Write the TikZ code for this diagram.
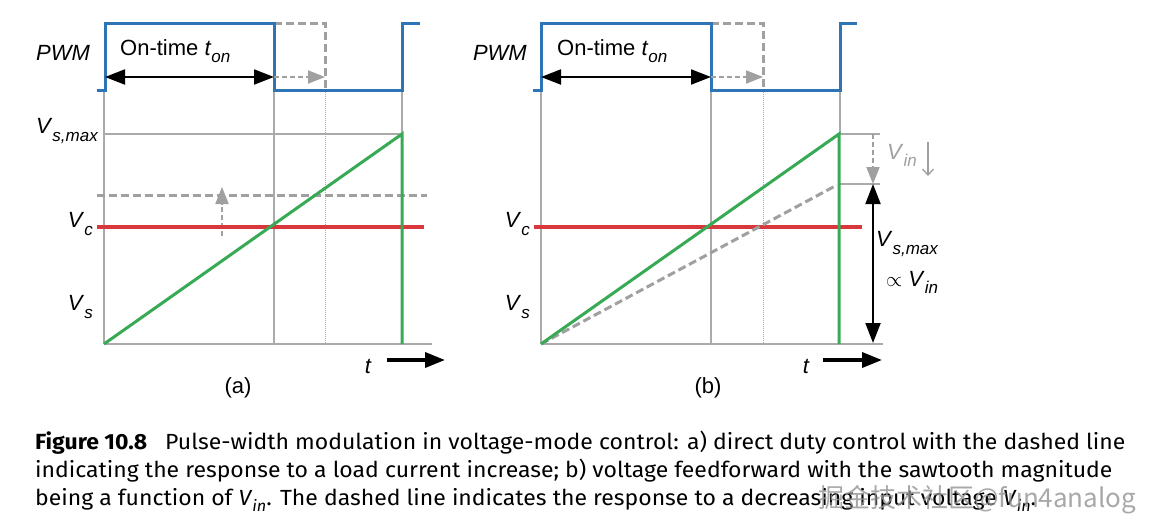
\documentclass[tikz,border=0pt]{standalone}
\usepackage{fontspec}
\setmainfont{Liberation Sans}
\newfontfamily\capfont[FakeStretch=1.05]{Fira Sans}
\newfontfamily\cjkfont{Noto Sans CJK SC}
\usetikzlibrary{arrows.meta}
\definecolor{pwmblue}{RGB}{46,117,182}
\definecolor{rampgreen}{RGB}{56,170,86}
\definecolor{vcred}{RGB}{216,56,60}
\definecolor{gridgray}{RGB}{170,170,170}
\definecolor{dashgray}{RGB}{160,160,160}
\newcommand{\sbs}[1]{\raisebox{-0.32em}{\fontsize{17}{17}\selectfont\itshape #1}}
\newcommand{\capsub}[1]{\raisebox{-0.3em}{\fontsize{15.5}{15.5}\selectfont\itshape #1}}
\tikzset{
  pwm/.style={pwmblue, line width=3pt},
  ramp/.style={rampgreen, line width=3pt},
  vcline/.style={vcred, line width=3.5pt},
  gridline/.style={gridgray, line width=1.2pt},
  dotgrid/.style={gridgray, line width=0.9pt, dash pattern=on 1pt off 1pt},
  dashg/.style={dashgray, line width=3pt, dash pattern=on 8pt off 4pt},
  dblarrow/.style={black, line width=2pt, {Triangle[length=20pt,width=15pt]}-{Triangle[length=20pt,width=15pt]}},
  garrow/.style={dashgray, line width=2pt, dash pattern=on 5pt off 3pt, -{Triangle[length=17pt,width=13pt]}},
  tarrow/.style={black, line width=3.5pt, -{Triangle[length=20pt,width=15pt]}},
  lbl/.style={font=\fontsize{22}{24}\selectfont, inner sep=0pt},
  captxt/.style={font=\capfont\fontsize{21.9}{26}\selectfont, inner sep=0pt, anchor=base west}
}
\begin{document}
\begin{tikzpicture}[x=1pt,y=-1pt]
\useasboundingbox (0,0) rectangle (1156,531);
\fill[white] (0,0) rectangle (1156,531);

% ================= Panel (a) =================
\coordinate (a0) at (97,90);
\coordinate (a1) at (105,90);
\coordinate (a2) at (105,23);
\coordinate (a3) at (274,23);
\coordinate (a4) at (274,90);
\coordinate (a5) at (402,90);
\coordinate (a6) at (402,23);
\coordinate (a7) at (420,23);
\coordinate (a8) at (325,23);
\coordinate (a9) at (325,90);
\coordinate (aB0) at (104,344);
\coordinate (aB1) at (274,344);
\coordinate (aB2) at (325,344);
\coordinate (aB3) at (432,344);
\coordinate (aT0) at (103,134);
\coordinate (aT1) at (402,134);
\coordinate (aG1) at (402,344);
\coordinate (aAx) at (104,90);

% grid
\draw[gridline] (aAx) -- (aB0);
\draw[gridline] (a4) -- (aB1);
\draw[dotgrid] (a9) -- (aB2);
\draw[gridline] (a5) -- (aT1);
\draw[gridline] (aT0) -- (aT1);
\draw[gridline] (aB0) -- (aB3);

% dashed shifted level and arrow
\coordinate (aD0) at (97,195);
\coordinate (aD1) at (427,195);
\draw[dashg] (aD0) -- (aD1);
\coordinate (aU0) at (222,236);
\coordinate (aU1) at (222,187);
\draw[garrow] (aU0) -- (aU1);

% control voltage
\coordinate (aR0) at (97,227);
\coordinate (aR1) at (424,227);
\draw[vcline] (aR0) -- (aR1);

% sawtooth
\draw[ramp] (aB0) -- (aT1) -- (aG1);

% PWM
\draw[dashg] (a3) -- (a8) -- (a9);
\draw[pwm] (a0) -- (a1) -- (a2) -- (a3) -- (a4) -- (a5) -- (a6) -- (a7);
\coordinate (aA0) at (105,77);
\coordinate (aA1) at (274,77);
\coordinate (aA2) at (325,77);
\draw[dblarrow] (aA0) -- (aA1);
\draw[garrow] (aA1) -- (aA2);

% labels
\node[lbl] (aPWM) at (63,53) {\itshape PWM};
\node[lbl, anchor=base west] (aOn) at (120,55) {On-time \textit{t}\sbs{on}};
\node[lbl, anchor=east] (aVsmax) at (98,131) {\textit{V}\sbs{s,max}};
\node[lbl, anchor=east] (aVc) at (93,224) {\textit{V}\sbs{c}};
\node[lbl, anchor=east] (aVs) at (93,307) {\textit{V}\sbs{s}};
\node[lbl] (aT) at (368,366) {\itshape t};
\coordinate (aTa0) at (387,360);
\coordinate (aTa1) at (445,360);
\draw[tarrow] (aTa0) -- (aTa1);
\node[lbl] (aCap) at (238,388) {(a)};

% ================= Panel (b) =================
\coordinate (b0) at (533,90);
\coordinate (b1) at (541,90);
\coordinate (b2) at (541,23);
\coordinate (b3) at (711,23);
\coordinate (b4) at (711,90);
\coordinate (b5) at (840,90);
\coordinate (b6) at (840,23);
\coordinate (b7) at (857,23);
\coordinate (b8) at (763,23);
\coordinate (b9) at (763,90);
\coordinate (bB0) at (541,344);
\coordinate (bB1) at (711,344);
\coordinate (bB2) at (763,344);
\coordinate (bB3) at (883,344);
\coordinate (bT1) at (839,134);
\coordinate (bG1) at (839,344);
\coordinate (bAx) at (541,90);
\coordinate (bK) at (840,134);

% grid
\draw[gridline] (bAx) -- (bB0);
\draw[gridline] (b4) -- (bB1);
\draw[dotgrid] (b9) -- (bB2);
\draw[gridline] (b5) -- (bK);
\draw[gridline] (bB0) -- (bB3);
\coordinate (bH0) at (839,134);
\coordinate (bH1) at (880,134);
\coordinate (bH2) at (839,184);
\coordinate (bH3) at (880,184);
\draw[gridline] (bH0) -- (bH1);
\draw[gridline] (bH2) -- (bH3);

% control voltage
\coordinate (bR0) at (534,227);
\coordinate (bR1) at (862,227);
\draw[vcline] (bR0) -- (bR1);

% reduced sawtooth (dashed) and sawtooth
\coordinate (bDr) at (837,185);
\draw[dashg] (bB0) -- (bDr);
\draw[ramp] (bB0) -- (bT1) -- (bG1);

% magnitude arrows
\coordinate (bM0) at (873,134);
\coordinate (bM1) at (873,184);
\coordinate (bM2) at (873,343);
\draw[garrow] (bM0) -- (bM1);
\draw[dblarrow] (bM1) -- (bM2);
\node[lbl, text=dashgray, anchor=west] (bVin) at (887,155) {\textit{V}\sbs{in}};
\coordinate (bDn0) at (928,142);
\coordinate (bDn1) at (928,176);
\draw[dashgray, line width=1.3pt, -{Straight Barb[length=6pt,width=11pt]}] (bDn0) -- (bDn1);
\node[lbl, anchor=west] (bVsmax) at (876,244) {\textit{V}\sbs{s,max}};
\node[lbl, anchor=west] (bProp) at (886,282) {$\propto$ \textit{V}\sbs{in}};

% PWM
\draw[dashg] (b3) -- (b8) -- (b9);
\draw[pwm] (b0) -- (b1) -- (b2) -- (b3) -- (b4) -- (b5) -- (b6) -- (b7);
\coordinate (bA0) at (541,77);
\coordinate (bA1) at (711,77);
\coordinate (bA2) at (763,77);
\draw[dblarrow] (bA0) -- (bA1);
\draw[garrow] (bA1) -- (bA2);

% labels
\node[lbl, anchor=east] (bPWM) at (527,53) {\itshape PWM};
\node[lbl, anchor=base west] (bOn) at (557,55) {On-time \textit{t}\sbs{on}};
\node[lbl, anchor=east] (bVc) at (530,224) {\textit{V}\sbs{c}};
\node[lbl, anchor=east] (bVs) at (530,307) {\textit{V}\sbs{s}};
\node[lbl] (bT) at (806,366) {\itshape t};
\coordinate (bTa0) at (823,360);
\coordinate (bTa1) at (882,360);
\draw[tarrow] (bTa0) -- (bTa1);
\node[lbl] (bCap) at (708,388) {(b)};

% ================= Caption =================
\node[captxt] (cap1) at (35,449) {\textbf{Figure 10.8}\hspace{18pt}Pulse-width modulation in voltage-mode control: a) direct duty control with the dashed line};
\node[captxt] (cap2) at (35,477) {indicating the response to a load current increase; b) voltage feedforward with the sawtooth magnitude};
\node[captxt] (cap3) at (35,505) {being a function of \textit{V}\capsub{in}. The dashed line indicates the response to a decreasing input voltage \textit{V}\capsub{in}.};

% watermark
\node[inner sep=0pt, anchor=base west, text=gray!85, opacity=0.8, font=\cjkfont\fontsize{26}{26}\selectfont] (wm) at (818,507) {掘金技术社区@fun4analog};
\end{tikzpicture}
\end{document}
